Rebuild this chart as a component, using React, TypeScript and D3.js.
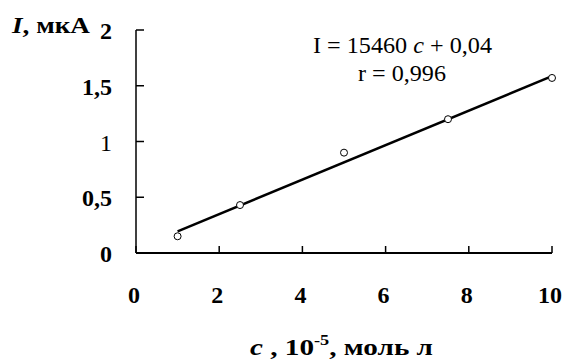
import React from "react";
import * as d3 from "d3";

const concentrations = [1, 2.5, 5, 7.5, 10];
const currents = [0.15, 0.43, 0.9, 1.2, 1.57];
const xTicks = [0, 2, 4, 6, 8, 10];
const yTicks = [0, 0.5, 1, 1.5, 2];
const fitSlope = 0.1546;
const fitIntercept = 0.04;
const fitRange = [1, 10];

const W = 569, H = 363;
const fmt = (v: number) => String(v).replace(".", ",");

export default function App() {
  const x = d3.scaleLinear().domain([0, 10]).range([136, 552]);
  const y = d3.scaleLinear().domain([0, 2]).range([253, 30]);
  const line = d3.line<number>().x((c) => x(c)).y((c) => y(fitSlope * c + fitIntercept));
  const serif = "'Liberation Serif', 'DejaVu Serif', serif";
  return (
    <svg width={W} height={H} style={{ position: "absolute", left: 0, top: 0, background: "#fff" }}>
      <rect width={W} height={H} fill="#fff" />
      <line x1={x(0)} x2={x(0)} y1={y(2)} y2={y(0)} stroke="#000" strokeWidth={1.5} />
      <line x1={x(0)} x2={x(10)} y1={y(0)} y2={y(0)} stroke="#000" strokeWidth={2} />
      {yTicks.map((t) => (
        <g key={"y" + t}>
          <line x1={x(0)} x2={x(0) + 8} y1={y(t)} y2={y(t)} stroke="#000" strokeWidth={1.5} />
          <text x={112} y={y(t) + 9} textAnchor="end" fontFamily={serif} fontWeight={t === 1 ? "normal" : "bold"} fontSize={24} fill="#000">
            {fmt(t)}
          </text>
        </g>
      ))}
      {xTicks.map((t) => (
        <g key={"x" + t}>
          <line x1={x(t)} x2={x(t)} y1={y(0)} y2={y(0) - 7} stroke="#000" strokeWidth={1.5} />
          <text x={x(t) - 2} y={303} textAnchor="middle" fontFamily={serif} fontWeight="bold" fontSize={24} fill="#000">
            {t}
          </text>
        </g>
      ))}
      <path d={line(fitRange) || ""} stroke="#000" strokeWidth={2.5} fill="none" />
      {concentrations.map((c, i) => (
        <circle key={i} cx={x(c)} cy={y(currents[i])} r={3.5} fill="#fff" stroke="#000" strokeWidth={1} />
      ))}
      <text x={12} y={33} fontFamily={serif} fontWeight="bold" fontSize={24} fill="#000" textLength={78} lengthAdjust="spacingAndGlyphs">
        <tspan fontStyle="italic">I</tspan>, мкА
      </text>
      <text x={313} y={53} fontFamily={serif} fontSize={24} fill="#000" textLength={179} lengthAdjust="spacingAndGlyphs">
        I = 15460 <tspan fontStyle="italic">c</tspan>  + 0,04
      </text>
      <text x={358} y={81} fontFamily={serif} fontSize={24} fill="#000" textLength={88} lengthAdjust="spacingAndGlyphs">
        r = 0,996
      </text>
      <text x={250} y={355} fontFamily={serif} fontWeight="bold" fontSize={24} fill="#000" textLength={183} lengthAdjust="spacingAndGlyphs">
        <tspan fontStyle="italic">c</tspan> , 10<tspan dy={-10} fontSize={15}>-5</tspan><tspan dy={10}>, моль л</tspan>
      </text>
    </svg>
  );
}
